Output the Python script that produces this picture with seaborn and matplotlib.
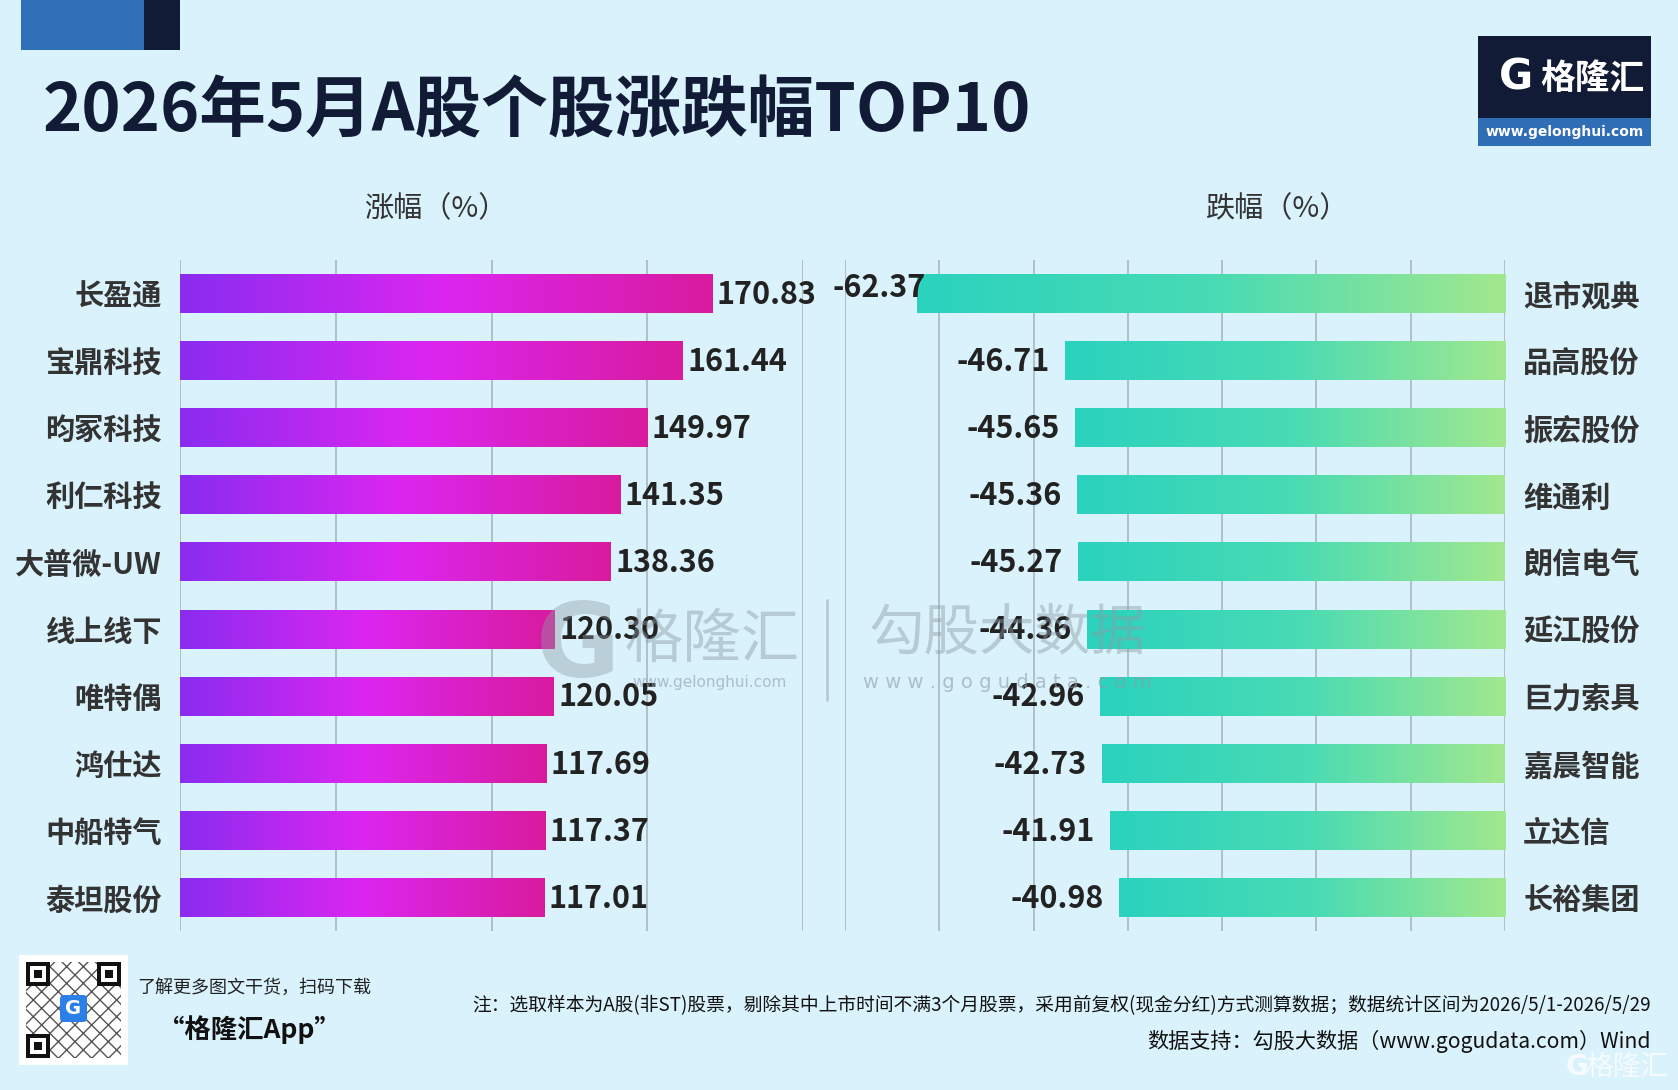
import numpy as np
import pandas as pd
import seaborn as sns
import matplotlib.pyplot as plt
from matplotlib.colors import LinearSegmentedColormap
from matplotlib.patches import Rectangle, FancyBboxPatch

# data
gainers = ['长盈通', '宝鼎科技', '昀冢科技', '利仁科技', '大普微-UW',
           '线上线下', '唯特偶', '鸿仕达', '中船特气', '泰坦股份']
gain_pct = [170.83, 161.44, 149.97, 141.35, 138.36, 120.30, 120.05, 117.69, 117.37, 117.01]
losers = ['退市观典', '品高股份', '振宏股份', '维通利', '朗信电气',
          '延江股份', '巨力索具', '嘉晨智能', '立达信', '长裕集团']
loss_pct = [-62.37, -46.71, -45.65, -45.36, -45.27, -44.36, -42.96, -42.73, -41.91, -40.98]

W, H = 1678, 1090
BG = '#DAF2FC'
NAVY = '#111B35'
TXT = '#222222'
GRID = '#AEBBC4'

sns.set_theme(style='white')
plt.rcParams['font.family'] = ['Noto Sans CJK SC', 'DejaVu Sans']

fig = plt.figure(figsize=(W / 100, H / 100), dpi=100, facecolor=BG)


def px_axes(x0, y0, x1, y1, **kw):
    return fig.add_axes([x0 / W, 1 - y1 / H, (x1 - x0) / W, (y1 - y0) / H], **kw)


def fill_gradient(ax, cmap):
    # replace the flat bar colour with a left-to-right gradient
    grad = np.linspace(0, 1, 256).reshape(1, -1)
    for p in ax.patches:
        x0, y0, w, h = p.get_x(), p.get_y(), p.get_width(), p.get_height()
        lo, hi = min(x0, x0 + w), max(x0, x0 + w)
        ax.imshow(grad, cmap=cmap, aspect='auto', extent=(lo, hi, y0 + h, y0),
                  interpolation='bicubic', zorder=3)
        p.set_alpha(0)


def style_axis(ax):
    ax.set_facecolor('none')
    ax.set_ylim(9.5, -0.5)
    ax.xaxis.grid(True, color=GRID, lw=1.3)
    ax.set_axisbelow(True)
    ax.tick_params(axis='x', length=0, labelbottom=False)
    for lbl in ax.get_yticklabels():
        lbl.set_fontsize(21)
        lbl.set_fontweight('bold')
        lbl.set_color('#333333')
    ax.set_xlabel('')
    ax.set_ylabel('')
    for s in ax.spines.values():
        s.set_visible(False)


pink = LinearSegmentedColormap.from_list('pink', ['#8A2CF0', '#DC26F0', '#D81B9E'])
teal = LinearSegmentedColormap.from_list('teal', ['#2BD2BE', '#48DBB4', '#A2E88E'])

df_up = pd.DataFrame({'name': gainers, 'pct': gain_pct})
df_dn = pd.DataFrame({'name': losers, 'pct': loss_pct})

# left chart: gainers
ax1 = px_axes(180, 260, 803, 931)
sns.barplot(data=df_up, x='pct', y='name', orient='h', width=0.58,
            color='#D020E0', ax=ax1)
fill_gradient(ax1, pink)
ax1.set_xlim(0, 200)
ax1.set_xticks([0, 50, 100, 150, 200])
ax1.tick_params(axis='y', length=0, pad=13)
style_axis(ax1)
for i, v in enumerate(gain_pct):
    ax1.text(v + 1.4, i + 0.02, f'{v:.2f}', ha='left', va='center',
             fontsize=22, color=TXT, fontweight='bold', zorder=5)

# right chart: losers
ax2 = px_axes(845, 260, 1505, 931)
sns.barplot(data=df_dn, x='pct', y='name', orient='h', width=0.58,
            color='#40D8B8', ax=ax2)
fill_gradient(ax2, teal)
ax2.set_xlim(-70, 0)
ax2.set_xticks(np.arange(-70, 1, 10))
ax2.yaxis.tick_right()
ax2.tick_params(axis='y', length=0, pad=13)
style_axis(ax2)
for i, v in enumerate(loss_pct):
    # labels that would spill past the left edge are pinned to it
    if v - 1.6 - 9.5 < -71.3:
        ax2.text(-71.3, i - 0.08, f'{v:.2f}', ha='left', va='center',
                 fontsize=22, color=TXT, fontweight='bold', zorder=5)
    else:
        ax2.text(v - 1.6, i + 0.02, f'{v:.2f}', ha='right', va='center',
                 fontsize=22, color=TXT, fontweight='bold', zorder=5)

# decoration layer in pixel coordinates
deco = px_axes(0, 0, W, H, zorder=10)
deco.set_xlim(0, W)
deco.set_ylim(H, 0)
deco.axis('off')
deco.set_facecolor('none')

deco.add_patch(Rectangle((21, 0), 123, 50, color='#2E6FB8', lw=0))
deco.add_patch(Rectangle((144, 0), 36, 50, color=NAVY, lw=0))
deco.text(43, 112, '2026年5月A股个股涨跌幅TOP10', fontsize=48, fontweight='heavy',
          color=NAVY, ha='left', va='center')

deco.text(436, 209, '涨幅（%）', fontsize=21, color='#333333', ha='center', va='center')
deco.text(1278, 209, '跌幅（%）', fontsize=21, color='#333333', ha='center', va='center')

# brand box, top right
deco.add_patch(Rectangle((1478, 36), 173, 82, color=NAVY, lw=0))
deco.add_patch(Rectangle((1478, 118), 173, 28, color='#2F6DB5', lw=0))
deco.text(1516, 78, 'G', fontsize=30, fontweight='heavy', color='white',
          ha='center', va='center', family='DejaVu Sans')
deco.text(1592, 78, '格隆汇', fontsize=25, fontweight='bold', color='white',
          ha='center', va='center')
deco.text(1565, 132, 'www.gelonghui.com', fontsize=10, fontweight='bold', color='white',
          ha='center', va='center', family='DejaVu Sans')

# watermarks
wm = '#8E9CA6'
deco.text(578, 648, 'G', fontsize=74, fontweight='heavy', color=wm, alpha=0.4,
          ha='center', va='center', family='DejaVu Sans')
deco.text(712, 640, '格隆汇', fontsize=42, color=wm, alpha=0.45, ha='center', va='center')
deco.text(710, 683, 'www.gelonghui.com', fontsize=11, color=wm, alpha=0.6,
          ha='center', va='center', family='DejaVu Sans')
deco.plot([827, 827], [600, 700], color=wm, alpha=0.45, lw=2)
deco.text(1007, 634, '勾股大数据', fontsize=40, color=wm, alpha=0.45, ha='center', va='center')
deco.text(1007, 683, 'w w w . g o g u d a t a . c o m', fontsize=14, color=wm, alpha=0.6,
          ha='center', va='center', family='DejaVu Sans')

# QR code stand-in
deco.add_patch(Rectangle((19, 955), 109, 110, color='white', lw=0))
deco.add_patch(Rectangle((26, 962), 95, 96, facecolor='none', edgecolor='#555555',
                         hatch='xx', lw=0))
for fx, fy in [(26, 962), (97, 962), (26, 1034)]:
    deco.add_patch(Rectangle((fx, fy), 24, 24, color='#111111', lw=0))
    deco.add_patch(Rectangle((fx + 4, fy + 4), 16, 16, color='white', lw=0))
    deco.add_patch(Rectangle((fx + 8, fy + 8), 8, 8, color='#111111', lw=0))
deco.add_patch(FancyBboxPatch((61, 996), 25, 25, boxstyle='round,pad=1,rounding_size=4',
                              color='#2D7FE8', lw=0))
deco.text(73.5, 1009, 'G', fontsize=14, fontweight='heavy', color='white',
          ha='center', va='center', family='DejaVu Sans')
deco.text(137, 988, '了解更多图文干货，扫码下载', fontsize=13, style='italic',
          color='#222222', ha='left', va='center')
deco.text(158, 1030, '“格隆汇App”', fontsize=19, style='italic', fontweight='bold',
          color='#111111', ha='left', va='center')

# notes
deco.text(1651, 1006, '注：选取样本为A股(非ST)股票，剔除其中上市时间不满3个月股票，'
          '采用前复权(现金分红)方式测算数据；数据统计区间为2026/5/1-2026/5/29',
          fontsize=13.5, color='#111111', ha='right', va='center')
deco.text(1651, 1041, '数据支持：勾股大数据（www.gogudata.com）Wind', fontsize=15.2,
          color='#111111', ha='right', va='center')
deco.text(1577, 1067, 'G', fontsize=20, fontweight='heavy', color='white', alpha=0.75,
          ha='center', va='center', family='DejaVu Sans')
deco.text(1627, 1067, '格隆汇', fontsize=20, color='white', alpha=0.75,
          ha='center', va='center')

fig.savefig('out.png', dpi=100, facecolor=BG)
